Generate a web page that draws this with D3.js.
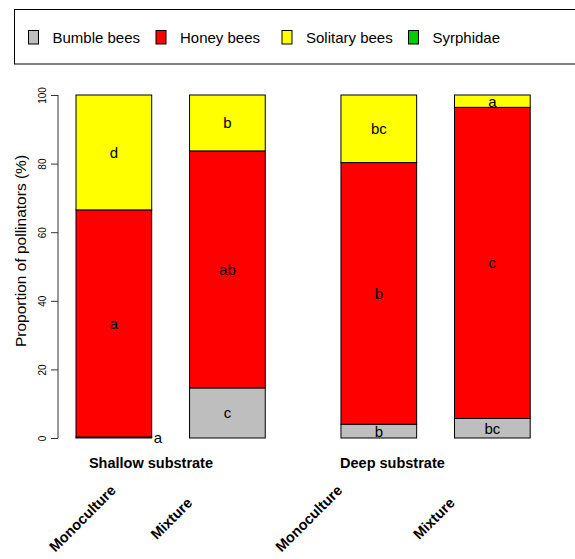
<!DOCTYPE html>
<html>
<head>
<meta charset="utf-8">
<script src="https://cdn.jsdelivr.net/npm/d3@7"></script>
<style>
  html, body { margin: 0; padding: 0; background: #fff; }
  svg { display: block; font-family: "Liberation Sans", Arial, Helvetica, sans-serif; }
</style>
</head>
<body>
<svg id="chart" width="575" height="559"></svg>
<script>
// ---- data ----
const groups = ["Shallow substrate", "Deep substrate"];
const treatments = ["Monoculture", "Mixture", "Monoculture", "Mixture"];
const seriesNames = ["Bumble bees", "Honey bees", "Solitary bees", "Syrphidae"];
const bumbleBees   = [0.3, 14.6, 4.0, 5.7];
const honeyBees    = [66.2, 69.1, 76.3, 90.7];
const solitaryBees = [33.5, 16.3, 19.7, 3.6];
const syrphidae    = [0, 0, 0, 0];
const bumbleLetters   = ["a", "c", "b", "bc"];
const honeyLetters    = ["a", "ab", "b", "c"];
const solitaryLetters = ["d", "b", "bc", "a"];
const yTicks = [0, 20, 40, 60, 80, 100];

// ---- styles / layout ----
const colors = ["#BEBEBE", "#FF0000", "#FFFF00", "#00CD00"];
const svg = d3.select("#chart");

const seriesValues = [bumbleBees, honeyBees, solitaryBees, syrphidae];
const seriesLetters = [bumbleLetters, honeyLetters, solitaryLetters, null];

// bar left edges in bar-width units (R barplot style spacing)
const spaces = [0.5, 0.5, 1.0, 0.5];
const lefts = [];
let acc = 0;
spaces.forEach((s, i) => { acc += s; lefts.push(acc); acc += 1; });

const x = d3.scaleLinear().domain([0.5, 1.5]).range([76, 151.7]);
const y = d3.scaleLinear().domain([0, 100]).range([438, 95]);

// stacked data
const table = treatments.map((t, i) => {
  const row = { i };
  seriesNames.forEach((s, k) => row[s] = seriesValues[k][i]);
  return row;
});
const stacked = d3.stack().keys(seriesNames)(table);

const gBars = svg.append("g");
stacked.forEach((layer, k) => {
  gBars.selectAll(null).data(layer.filter(d => d[1] - d[0] > 0)).enter().append("rect")
    .attr("x", d => x(lefts[d.data.i]))
    .attr("width", d => x(lefts[d.data.i] + 1) - x(lefts[d.data.i]))
    .attr("y", d => y(d[1]))
    .attr("height", d => y(d[0]) - y(d[1]))
    .attr("fill", colors[k])
    .attr("stroke", "#000")
    .attr("stroke-width", 1);
});

// letters
stacked.forEach((layer, k) => {
  const letters = seriesLetters[k];
  if (!letters) return;
  layer.forEach((d, i) => {
    const tooThin = (d[1] - d[0]) < 1;
    const cx = tooThin ? x(lefts[i] + 1) + 2 : x(lefts[i] + 0.5);
    const cy = tooThin ? y(0) - 1 : y((d[0] + d[1]) / 2);
    svg.append("text")
      .attr("x", cx).attr("y", cy)
      .attr("text-anchor", tooThin ? "start" : "middle")
      .attr("dominant-baseline", "central")
      .attr("font-size", 15)
      .attr("fill", "#000")
      .text(letters[i]);
  });
});

// y axis
const yAxis = d3.axisLeft(y).tickValues(yTicks).tickSize(7).tickPadding(4);
const gy = svg.append("g").attr("transform", "translate(58,0)").call(yAxis);
gy.select(".domain").attr("stroke", "#333").attr("d", `M0,${y(0)}V${y(100)}`);
gy.selectAll(".tick line").attr("stroke", "#333");
gy.selectAll(".tick text")
  .attr("font-size", 10)
  .attr("font-family", "Liberation Sans, Arial, sans-serif")
  .attr("fill", "#000")
  .attr("text-anchor", "middle")
  .attr("dominant-baseline", "central")
  .attr("x", null).attr("dy", null)
  .attr("transform", "translate(-16,0) rotate(-90)");

svg.append("text")
  .attr("transform", `translate(25.5,${251}) rotate(-90)`)
  .attr("text-anchor", "middle")
  .attr("font-size", 15.5)
  .text("Proportion of pollinators (%)");

// group labels
const groupCenters = [1.49, 4.68];
groups.forEach((g, i) => {
  svg.append("text")
    .attr("x", x(groupCenters[i])).attr("y", 468)
    .attr("text-anchor", "middle")
    .attr("font-size", 14.5)
    .attr("font-weight", "bold")
    .text(g);
});

// rotated treatment labels
const labelOffsets = [-31.5, -56, -70, -58.5];
treatments.forEach((t, i) => {
  const cx = x(lefts[i] + 0.5) + labelOffsets[i];
  svg.append("text")
    .attr("transform", `translate(${cx},518.5) rotate(-45)`)
    .attr("text-anchor", "middle")
    .attr("dominant-baseline", "central")
    .attr("font-size", 14.5)
    .attr("font-weight", "bold")
    .text(t);
});

// legend
svg.append("rect")
  .attr("x", 14.5).attr("y", 9.5).attr("width", 600).attr("height", 54.5)
  .attr("fill", "none").attr("stroke", "#000").attr("stroke-width", 1);
const legendX = [28, 155.5, 281.5, 408];
seriesNames.forEach((s, k) => {
  svg.append("rect")
    .attr("x", legendX[k] + 0.5).attr("y", 30.5).attr("width", 10).attr("height", 13.5)
    .attr("fill", colors[k]).attr("stroke", "#000").attr("stroke-width", 1);
  svg.append("text")
    .attr("x", legendX[k] + 24.5).attr("y", 43)
    .attr("font-size", 15)
    .text(s);
});
</script>
</body>
</html>
